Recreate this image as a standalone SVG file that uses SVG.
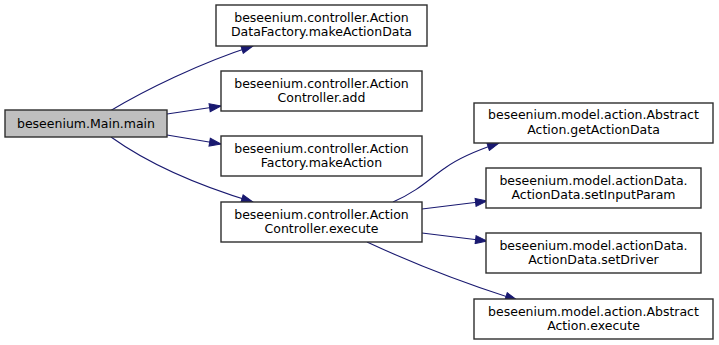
<svg xmlns="http://www.w3.org/2000/svg" width="719" height="345" viewBox="0 0 719 345">
  <style>
    .box { fill: #ffffff; stroke: #2e2e2e; stroke-width: 1.4; }
    .root { fill: #bfbfbf; stroke: #2e2e2e; stroke-width: 1.4; }
    text { font-family: "DejaVu Sans", "Liberation Sans", sans-serif; font-size: 12.5px; fill: #000000; text-anchor: middle; }
    .edge { fill: none; stroke: #191970; stroke-width: 1.1; marker-end: url(#arrow); }
  </style>
  <defs>
    <marker id="arrow" markerUnits="userSpaceOnUse" markerWidth="14" markerHeight="10" refX="12.5" refY="5" orient="auto">
      <path d="M1,1 L12.5,5 L1,9 z" fill="#191970" stroke="#191970" stroke-width="1"/>
    </marker>
  </defs>
  <rect x="0" y="0" width="719" height="345" fill="#ffffff"/>

  <!-- call edges -->
  <g id="connectors">
    <path class="edge" d="M110,111 C145,90 200,63 253,46"/>
    <path class="edge" d="M167,114 L221,106"/>
    <path class="edge" d="M167,135 L221,144"/>
    <path class="edge" d="M111,137 C150,165 200,186 253,202"/>
    <path class="edge" d="M393,202 C420,190 430,178 445,168 C460,157 478,150 499,143"/>
    <path class="edge" d="M422,209 L487,201"/>
    <path class="edge" d="M422,233 L487,241"/>
    <path class="edge" d="M367,242 C410,262 460,282 517,300"/>
  </g>

  <g id="node-main">
    <rect class="root" x="5" y="110" width="162" height="27"/>
    <text x="86" y="127.5">beseenium.Main.main</text>
  </g>

  <g id="node-makeActionData">
    <rect class="box" x="216" y="5" width="211" height="41"/>
    <text x="321.5" y="22">beseenium.controller.Action</text>
    <text x="321.5" y="36">DataFactory.makeActionData</text>
  </g>

  <g id="node-controller-add">
    <rect class="box" x="221" y="71" width="201" height="40"/>
    <text x="321.5" y="87.5">beseenium.controller.Action</text>
    <text x="321.5" y="101.5">Controller.add</text>
  </g>

  <g id="node-makeAction">
    <rect class="box" x="221" y="136" width="201" height="40"/>
    <text x="321.5" y="152.5">beseenium.controller.Action</text>
    <text x="321.5" y="166.5">Factory.makeAction</text>
  </g>

  <g id="node-controller-execute">
    <rect class="box" x="221" y="202" width="201" height="40"/>
    <text x="321.5" y="218.5">beseenium.controller.Action</text>
    <text x="321.5" y="232.5">Controller.execute</text>
  </g>

  <g id="node-getActionData">
    <rect class="box" x="474" y="103" width="239" height="40"/>
    <text x="593.5" y="119">beseenium.model.action.Abstract</text>
    <text x="593.5" y="133.5">Action.getActionData</text>
  </g>

  <g id="node-setInputParam">
    <rect class="box" x="486" y="168" width="215" height="40"/>
    <text x="593.5" y="184.5">beseenium.model.actionData.</text>
    <text x="593.5" y="198.5">ActionData.setInputParam</text>
  </g>

  <g id="node-setDriver">
    <rect class="box" x="486" y="233" width="215" height="40"/>
    <text x="593.5" y="249.5">beseenium.model.actionData.</text>
    <text x="593.5" y="263.5">ActionData.setDriver</text>
  </g>

  <g id="node-abstract-execute">
    <rect class="box" x="474" y="299" width="239" height="40"/>
    <text x="593.5" y="315.5">beseenium.model.action.Abstract</text>
    <text x="593.5" y="329.5">Action.execute</text>
  </g>
</svg>
